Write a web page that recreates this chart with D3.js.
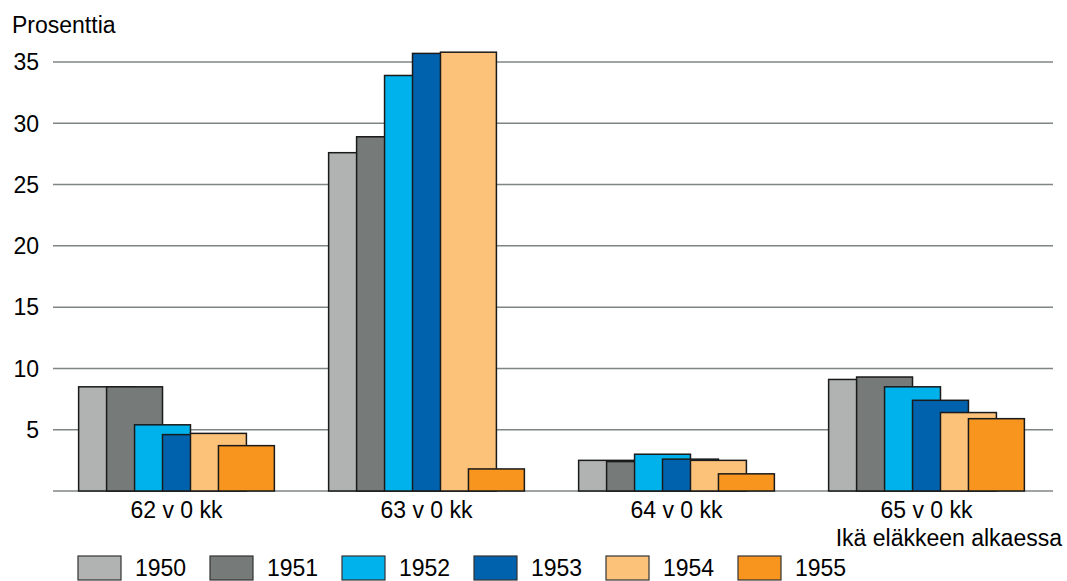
<!DOCTYPE html>
<html>
<head>
<meta charset="utf-8">
<script src="https://cdn.jsdelivr.net/npm/d3@7"></script>
<style>
  html, body { margin: 0; padding: 0; background: #fff; }
  svg { display: block; font-family: "Liberation Sans", Arial, sans-serif; }
</style>
</head>
<body>
<svg id="chart" width="1067" height="581"></svg>
<script>
const categories = ["62 v 0 kk", "63 v 0 kk", "64 v 0 kk", "65 v 0 kk"];
const seriesNames = ["1950", "1951", "1952", "1953", "1954", "1955"];
const s1950 = [8.5, 27.6, 2.5, 9.1];
const s1951 = [8.5, 28.9, 2.4, 9.3];
const s1952 = [5.4, 33.9, 3.0, 8.5];
const s1953 = [4.6, 35.7, 2.6, 7.4];
const s1954 = [4.7, 35.8, 2.5, 6.4];
const s1955 = [3.7, 1.8, 1.4, 5.9];
const seriesValues = [s1950, s1951, s1952, s1953, s1954, s1955];
const colors = ["#b1b3b3", "#767b7a", "#00b2ec", "#0062ac", "#fdc27a", "#f7951f"];
const yTicks = [5, 10, 15, 20, 25, 30, 35];
const yTitle = "Prosenttia";
const xTitle = "Ikä eläkkeen alkaessa";

const svg = d3.select("#chart");
const gridLeft = 53, gridRight = 1053;

const y = d3.scaleLinear().domain([0, 35]).range([491, 62]);
const x0 = d3.scaleBand().domain(categories).range([51.5, 1051.5])
  .paddingInner(0.217).paddingOuter(0.1085);
const step = x0.bandwidth() / 7;
const xi = d3.scaleLinear().domain([0, 1]).range([0, step]);

// gridlines
svg.append("g").selectAll("line").data([0, ...yTicks]).join("line")
  .attr("x1", gridLeft).attr("x2", gridRight)
  .attr("y1", d => y(d)).attr("y2", d => y(d))
  .attr("stroke", "#7f8484").attr("stroke-width", 1.5);

// y tick labels
svg.append("g").selectAll("text").data(yTicks).join("text")
  .attr("x", 39).attr("y", d => y(d)).attr("dy", "0.36em")
  .attr("text-anchor", "end").attr("font-size", 23).attr("fill", "#000")
  .text(d => d);

svg.append("text").attr("x", 12).attr("y", 33)
  .attr("font-size", 23).attr("fill", "#000").text(yTitle);

// bars (drawn in series order so later overlaps earlier)
const barsG = svg.append("g");
categories.forEach((cat, ci) => {
  seriesValues.forEach((vals, si) => {
    barsG.append("rect")
      .attr("x", x0(cat) + xi(si))
      .attr("y", y(vals[ci]))
      .attr("width", xi(2))
      .attr("height", y(0) - y(vals[ci]))
      .attr("fill", colors[si])
      .attr("stroke", "#1a1a1a").attr("stroke-width", 1.5);
  });
});

// x labels
svg.append("g").selectAll("text").data(categories).join("text")
  .attr("x", d => x0(d) + x0.bandwidth() / 2).attr("y", 518)
  .attr("text-anchor", "middle").attr("font-size", 23).attr("fill", "#000")
  .text(d => d);

svg.append("text").attr("x", 1062).attr("y", 546)
  .attr("text-anchor", "end").attr("font-size", 23).attr("fill", "#000")
  .text(xTitle);

// legend
const lg = svg.append("g");
seriesNames.forEach((name, i) => {
  const lx = 78 + i * 132;
  lg.append("rect").attr("x", lx).attr("y", 556).attr("width", 43).attr("height", 24)
    .attr("fill", colors[i]).attr("stroke", "#333").attr("stroke-width", 1.2);
  lg.append("text").attr("x", lx + 57).attr("y", 576)
    .attr("font-size", 23).attr("fill", "#000").text(name);
});
</script>
</body>
</html>
